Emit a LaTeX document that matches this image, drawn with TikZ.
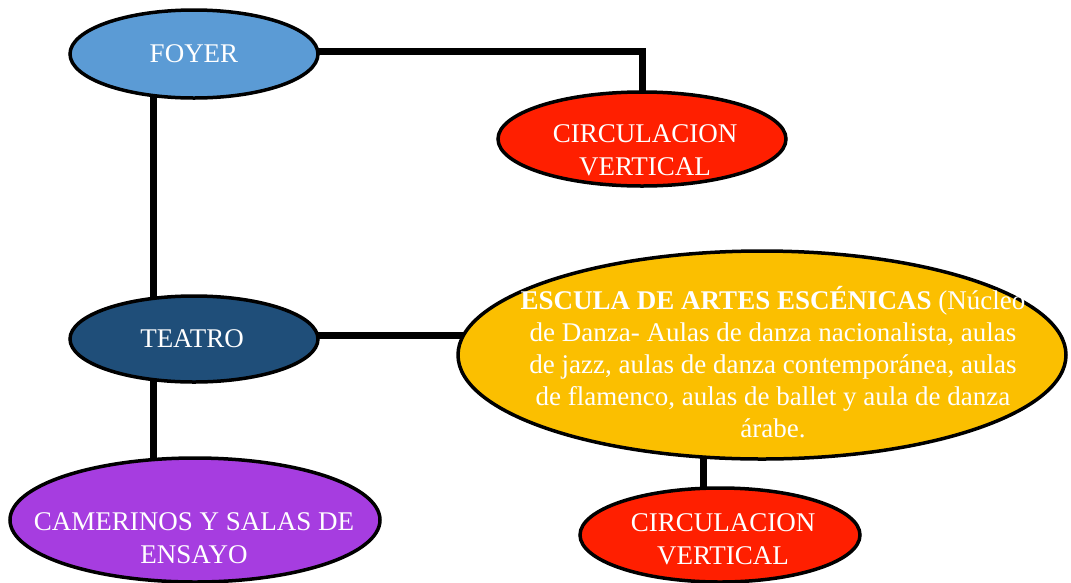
\documentclass[tikz,border=0pt]{standalone}
\usepackage{fontspec}
\setmainfont{Liberation Serif}
\usetikzlibrary{shapes.geometric,calc}
\pgfdeclarelayer{background}
\pgfsetlayers{background,main}
\definecolor{cfoyer}{HTML}{5B9BD5}
\definecolor{cred}{HTML}{FF1F00}
\definecolor{cteatro}{HTML}{1F4E79}
\definecolor{cyellow}{HTML}{FBBF00}
\definecolor{cpurple}{HTML}{A63DE0}
\tikzset{
  oval/.style={ellipse, draw=black, line width=3.5pt, inner sep=0pt},
  lbl/.style={text=white, align=center, font=\fontsize{27}{33}\selectfont, inner sep=0pt},
  conn/.style={line width=7pt, line cap=rect},
}
\begin{document}
\begin{tikzpicture}[x=1pt,y=-1pt]
\useasboundingbox (0,0) rectangle (1071,582);
% ellipses
\node[oval, fill=cfoyer, minimum width=248pt, minimum height=88pt] (foyer) at (194,54) {};
\node[oval, fill=cred, minimum width=288pt, minimum height=94pt] (circa) at (642,139) {};
\node[oval, fill=cteatro, minimum width=248pt, minimum height=86pt] (teatro) at (194,339) {};
\node[oval, fill=cyellow, minimum width=608pt, minimum height=208pt] (escuela) at (762,355) {};
\node[oval, fill=cpurple, minimum width=370pt, minimum height=124pt] (camerinos) at (195,520) {};
\node[oval, fill=cred, minimum width=280pt, minimum height=94pt] (circb) at (720,535) {};
% labels
\node[lbl] (foyerT) at (194,54) {FOYER};
\node[lbl] (circaT) at (645,150) {CIRCULACION\\VERTICAL};
\node[lbl] (teatroT) at (192,339) {TEATRO};
\node[lbl, font=\fontsize{27}{32}\selectfont] (escuelaT) at (773,362)
  {\textbf{ESCULA DE ARTES ESCÉNICAS} (Núcleo\\de Danza- Aulas de danza nacionalista, aulas\\de jazz, aulas de danza contemporánea, aulas\\de flamenco, aulas de ballet y aula de danza\\árabe.};
\node[lbl] (camerinosT) at (194,538) {CAMERINOS Y SALAS DE\\ENSAYO};
\node[lbl] (circbT) at (723,539) {CIRCULACION\\VERTICAL};
% connectors
\coordinate (fR) at ($(foyer.center)+(0,-3)$);
\coordinate (fB) at ($(foyer.center)+(-41,0)$);
\coordinate (tT) at ($(teatro.center)+(-41,0)$);
\coordinate (tR) at ($(teatro.center)+(0,-4)$);
\coordinate (cT) at ($(camerinos.center)+(-42,0)$);
\coordinate (eB) at ($(escuela.center)+(-59,0)$);
\coordinate (bT) at ($(circb.center)+(-17,0)$);
\begin{pgfonlayer}{background}
\draw[conn] (fR) -- (fR -| circa.north) -- (circa.center);
\draw[conn] (fB) -- (tT);
\draw[conn] (tR) -- (tR -| escuela.center);
\draw[conn] (tT) -- (cT);
\draw[conn] (eB) -- (bT);
\end{pgfonlayer}
\end{tikzpicture}
\end{document}
